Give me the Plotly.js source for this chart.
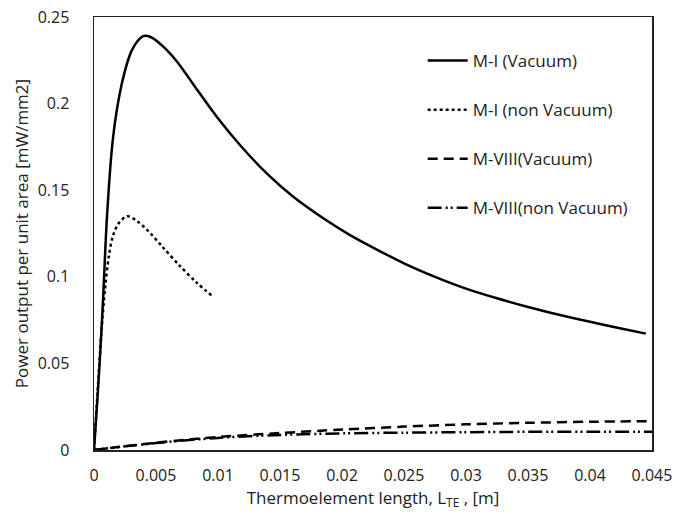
<!DOCTYPE html>
<html>
<head>
<meta charset="utf-8">
<script src="https://cdn.plot.ly/plotly-3.0.1.min.js"></script>
<style>html,body{margin:0;padding:0;background:#fff;}#chart{width:689px;height:514px;}</style>
</head>
<body>
<div id="chart"></div>
<script>
// M-I (Vacuum)
const miVacX = [0, 0.00027, 0.0005, 0.00073, 0.00105, 0.0015, 0.002, 0.0025, 0.003, 0.0035, 0.004, 0.00452, 0.0055, 0.00667, 0.008, 0.0099, 0.01177, 0.01393, 0.01607, 0.01849, 0.02065, 0.0225, 0.025, 0.0275, 0.03, 0.0325, 0.035, 0.0375, 0.04, 0.0425, 0.0445];
const miVacY = [0, 0.029, 0.056, 0.087, 0.135, 0.178, 0.203, 0.219, 0.230, 0.236, 0.239, 0.2386, 0.2335, 0.2245, 0.2112, 0.1924, 0.1761, 0.1597, 0.1462, 0.1338, 0.1241, 0.1169, 0.1078, 0.1000, 0.0932, 0.0876, 0.0826, 0.0781, 0.0740, 0.0702, 0.0672];
// M-I (non Vacuum)
const miNonX = [0, 0.0003, 0.0006, 0.0009, 0.0012, 0.0015, 0.002, 0.0027, 0.0035, 0.0043, 0.0055, 0.0069, 0.0083, 0.0096];
const miNonY = [0, 0.035, 0.068, 0.094, 0.112, 0.123, 0.131, 0.135, 0.132, 0.127, 0.1175, 0.1065, 0.0965, 0.0885];
// M-VIII (Vacuum)
const m8VacX = [0, 0.005, 0.01, 0.015, 0.02, 0.025, 0.03, 0.035, 0.04, 0.045];
const m8VacY = [0, 0.0042, 0.0075, 0.0098, 0.0118, 0.0135, 0.0148, 0.0157, 0.0163, 0.0167];
// M-VIII (non Vacuum)
const m8NonX = [0, 0.005, 0.01, 0.015, 0.02, 0.025, 0.03, 0.035, 0.04, 0.045];
const m8NonY = [0, 0.0040, 0.0070, 0.0087, 0.0096, 0.0100, 0.0103, 0.0105, 0.0106, 0.0106];

const names = ["M-I (Vacuum)", "M-I (non Vacuum)", "M-VIII(Vacuum)", "M-VIII(non Vacuum)"];
const xTicks = [0, 0.005, 0.01, 0.015, 0.02, 0.025, 0.03, 0.035, 0.04, 0.045];
const xTickText = ["0", "0.005", "0.01", "0.015", "0.02", "0.025", "0.03", "0.035", "0.04", "0.045"];
const yTicks = [0, 0.05, 0.1, 0.15, 0.2, 0.25];
const yTickText = ["0", "0.05", "0.1", "0.15", "0.2", "0.25"];

const FONT = "Open Sans, Lato, sans-serif";

const traces = [
  {x: miVacX, y: miVacY, name: names[0], legendgroup: "a", mode: "lines", line: {color: "#000", width: 2.5, shape: "spline", smoothing: 0.9}},
  {x: miNonX, y: miNonY, name: names[1], legendgroup: "b", mode: "lines", line: {color: "#000", width: 2.5, dash: "dot", shape: "spline", smoothing: 0.9}},
  {x: m8VacX, y: m8VacY, name: names[2], legendgroup: "c", mode: "lines", line: {color: "#000", width: 2.5, dash: "10px,6px", shape: "spline", smoothing: 0.9}},
  {x: m8NonX, y: m8NonY, name: names[3], legendgroup: "d", mode: "lines", line: {color: "#000", width: 2.5, dash: "14px,4px,2px,3px,2px,4px", shape: "spline", smoothing: 0.9}}
];

const layout = {
  width: 689, height: 514,
  margin: {l: 94, r: 37, t: 17, b: 64},
  paper_bgcolor: "#fff", plot_bgcolor: "#fff",
  font: {family: FONT, size: 15, color: "#222"},
  showlegend: true,
  legend: {x: 0.589, y: 0.94, xanchor: "left", yanchor: "top", bgcolor: "rgba(0,0,0,0)",
           font: {family: FONT, size: 17, color: "#222"}, tracegroupgap: 24, itemwidth: 40},
  xaxis: {
    range: [0, 0.045], tickvals: xTicks, ticktext: xTickText,
    showgrid: false, zeroline: false, showline: true, mirror: true, linecolor: "#222", linewidth: 1.5,
    ticks: "outside", ticklen: 10, tickcolor: "#fff",
    tickfont: {family: FONT, size: 16, color: "#222"},
    title: {text: "Thermoelement length, L<sub>TE</sub> , [m]", font: {family: FONT, size: 17, color: "#222"}, standoff: 3}
  },
  yaxis: {
    range: [0, 0.25], tickvals: yTicks, ticktext: yTickText,
    showgrid: false, zeroline: false, showline: true, mirror: true, linecolor: "#222", linewidth: 1.5,
    ticks: "outside", ticklen: 20, tickcolor: "#fff",
    tickfont: {family: FONT, size: 16, color: "#222"},
    title: {text: "Power output per unit area [mW/mm2]", font: {family: FONT, size: 17, color: "#222"}, standoff: 4}
  }
};

Plotly.newPlot("chart", traces, layout, {displayModeBar: false, staticPlot: true});
</script>
</body>
</html>
